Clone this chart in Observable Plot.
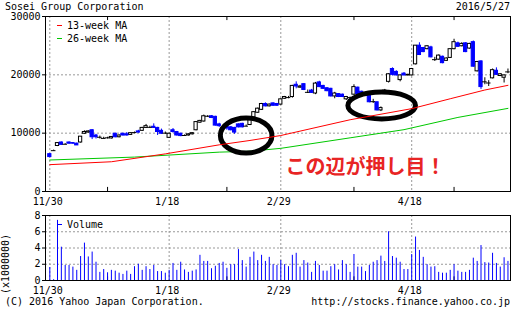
<!DOCTYPE html>
<html><head><meta charset="utf-8">
<script src="https://cdn.jsdelivr.net/npm/d3@7"></script>
<script src="https://cdn.jsdelivr.net/npm/@observablehq/plot@0.6"></script>
<style>
body{margin:0;background:#fff;}
#c{position:relative;width:512px;height:313px;overflow:hidden;font-family:"DejaVu Sans Mono",monospace;font-size:10px;color:#000;background:#fff;}
.t{position:absolute;white-space:pre;line-height:10px;}
.dash{position:absolute;height:1px;width:5px;}
#c svg{position:absolute;left:0;background:transparent;overflow:visible;}
</style></head><body><div id="c"></div><script>
// ---- data ----
const titleText = "Sosei Group Corporation";
const dateText = "2016/5/27";
const tickIdx = [0, 31, 60, 94];
const tickLabels = ["11/30", "1/18", "2/29", "4/18"];
const minorIdx = [15, 46, 79, 105];
const priceTicks = [0, 10000, 20000, 30000];
const priceGrid = [10000, 20000];
const volTicks = [0, 2, 4, 6, 8];
const volGrid = [2, 4, 6];

const openP  = [6400,7000,7800,8400,8100,8400,8300,8200,8400,9900, 10100,10500,9600,9300,9100,9200,9100,9900,9300,9900, 9800,9700,10100,10300,10400,10900,11000,11100,10900,10400, 10000,9200,10500,10200,9900,9600,9600,9800,10500,11800, 12000,12900,12900,12800,11500,11000,11100,11000,10900,11500, 11600,11200,11400,12700,13500,14000,15000,14600,15100,15000, 14900,15900,16100,16200,18300,17800,18400,17000,17300,16800, 18700,18100,17700,17600,16300,16700,16600,15800,16100,16600, 17800,17100,16800,16400,15400,15300,13900,16900,18800,21000, 20500,19100,20200,19900,19900,21800,25000,24600,24400,24700, 22600,22600,23100,22400,22900,24400,25400,24900,25400,24500, 25600,20600,22300,18800,18600,19400,20700,19800,19500,20500];
const highP  = [6500,7100,8400,8500,8200,8500,8400,8300,9400,10400, 10400,10600,9800,9500,9300,9300,9400,10000,9700,10000, 10100,10100,10200,10500,11000,11500,11200,11600,11000,10700, 10200,10000,10800,10300,10000,9700,9900,10100,12000,12200, 13100,13000,13000,12900,11700,11100,11300,11100,11000,11600, 11700,11400,12600,13700,14300,15100,15200,15000,15200,15100, 15900,16300,16300,18200,18800,18200,18500,17400,17500,18700, 18900,18200,17800,17700,17000,16800,16700,16300,16200,18300, 17900,17200,17000,16500,15800,15300,14500,17500,20200,21200, 20700,20000,20400,20100,21100,25000,25500,24700,25000,24900, 23000,23400,23200,22900,24500,26100,25600,25500,25500,25400, 25800,22300,22400,19500,19000,21000,21200,20200,20000,21000];
const lowP   = [5800,6900,7700,7900,8000,8100,8100,7900,8300,9800, 10000,8900,9000,9000,9000,9000,9000,9200,9200,9500, 9500,9600,9900,10000,10300,10800,10800,10800,9600,9800, 9800,9100,10000,9500,9400,9500,9500,9700,10400,11700, 11900,12700,12500,11200,11000,10900,10500,10400,9800,10900, 10900,11100,11300,12600,13400,13900,14500,14500,14600,14600, 14800,15800,15900,16000,17600,17700,17300,16800,16800,16600, 17800,17500,17100,16200,15900,16100,16100,15600,16000,16500, 16600,16600,16500,15200,15100,13800,13700,16800,18600,19800, 19800,18800,19800,19800,19800,21700,23300,23800,24300,22900, 22300,22500,21900,22300,22800,24300,24700,24800,23800,24400, 21300,20500,17500,18300,18000,19300,19900,19700,18600,20200];
const closeP = [5900,7000,8300,8000,8100,8200,8200,7900,9400,10200, 10300,9300,9300,9300,9100,9200,9350,9300,9600,9600, 9600,10000,10100,10100,10900,11200,11000,10900,10200,9900, 10000,9900,10200,9600,9500,9600,9800,10000,11900,12100, 12900,12900,12600,11300,11200,11000,10800,10500,10100,11000, 11000,11200,12500,13600,14200,15000,14600,14900,14700,14700, 15800,16200,16100,18100,18000,18000,17400,17000,16900,18500, 17900,17600,17200,16300,16800,16200,16200,16200,16100,17900, 16700,16700,16800,15300,15400,13900,14300,17300,20100,20000, 19900,19900,19900,20000,21000,25000,23400,23900,24900,23000, 22600,23300,22000,22800,24400,25600,24800,25300,23900,25300, 21400,22200,17900,18800,18600,20800,20000,20100,19900,20500];
const volumeM = [1.6,0.1,7.4,4.1,1.85,1.85,1.65,1.25,2.95,4.6, 2.9,3.5,2.25,1.0,1.35,0.95,1.25,1.15,0.9,0.75, 1.15,0.75,1.7,2.0,1.25,1.7,1.35,1.85,1.1,1.1, 0.9,1.25,2.1,1.25,2.25,1.3,1.0,1.15,1.3,3.1, 2.35,2.35,1.45,1.75,2.1,2.25,1.5,1.95,1.95,3.8, 2.45,1.65,2.85,3.5,2.45,3.1,2.35,2.85,1.95,1.85, 2.45,1.95,1.7,3.1,3.35,1.65,2.45,2.15,1.0,2.35, 1.85,1.15,1.15,1.7,1.95,1.3,2.45,1.95,1.0,3.2, 1.65,1.65,1.1,1.85,2.25,2.45,3.0,2.35,6.0,2.95, 2.75,2.25,1.35,1.35,3.2,5.35,3.7,2.85,1.95,1.65, 1.7,1.0,0.9,0.9,1.25,1.95,1.15,1.0,1.0,1.25, 2.75,2.35,4.3,2.2,2.15,3.35,2.1,1.65,2.8,2.35];

const ma13Idx = [0, 16, 30, 44, 52, 60, 78, 94, 104, 113, 119];
const ma13Val = [4600, 5100, 6450, 8000, 8750, 9600, 12300, 14200, 15900, 17400, 18200];
const ma26Idx = [0, 22, 44, 52, 60, 78, 92, 106, 119];
const ma26Val = [5400, 5900, 6750, 6900, 7400, 9200, 10600, 12700, 14250];

const noteText = ["この辺が押し目！"];
const noteIdx = [82.0];
const noteVal = [4050];
const circleIdx = [51.0, 86.2];
const circleVal = [9600, 14740];

const legendMain = ["13-week MA", "26-week MA"];
const legendColors = ["#ff0000", "#00c800"];
const volLegend = "Volume";
const volUnit = "(x1000000)";
const copyText = "(C) 2016 Yahoo Japan Corporation.";
const urlText = "http://stocks.finance.yahoo.co.jp";

// ---- build ----
const candles = openP.map((o, i) => ({i, o, h: highP[i], l: lowP[i], c: closeP[i]}));
const up = candles.filter(d => d.c > d.o);
const down = candles.filter(d => d.c < d.o);
const flat = candles.filter(d => d.c === d.o);
const vol = volumeM.map((v, i) => ({i, v}));
const ma13 = ma13Idx.map((i, k) => ({i, v: ma13Val[k]}));
const ma26 = ma26Idx.map((i, k) => ({i, v: ma26Val[k]}));
const BLUE = "#0000ff";
const GRID = "#999999";

function ellipse(rx, ry) {
  const k = 0.5523;
  return {draw(ctx) {
    ctx.moveTo(rx, 0);
    ctx.bezierCurveTo(rx, ry * k, rx * k, ry, 0, ry);
    ctx.bezierCurveTo(-rx * k, ry, -rx, ry * k, -rx, 0);
    ctx.bezierCurveTo(-rx, -ry * k, -rx * k, -ry, 0, -ry);
    ctx.bezierCurveTo(rx * k, -ry, rx, -ry * k, rx, 0);
    ctx.closePath();
  }};
}

const xScale = {type: "linear", domain: [-1.117, 119.66]};
const common = {
  width: 512, marginLeft: 45, marginRight: 2,
  x: xScale,
  style: {fontFamily: "DejaVu Sans Mono, monospace", fontSize: "10px", background: "transparent", color: "#000"}
};
const lab = i => tickLabels[tickIdx.indexOf(i)];

const main = Plot.plot({
  ...common, height: 206, marginTop: 16, marginBottom: 15,
  y: {domain: [0, 30000]},
  marks: [
    Plot.ruleY(priceGrid, {stroke: GRID, strokeDasharray: "2,2"}),
    Plot.ruleX(tickIdx, {stroke: GRID, strokeDasharray: "2,2"}),
    Plot.ruleX(minorIdx, {y1: 0, y2: 700, stroke: "black"}),
    Plot.ruleX(minorIdx, {y1: 29300, y2: 30000, stroke: "black"}),
    Plot.line(ma26, {x: "i", y: "v", stroke: legendColors[1], strokeWidth: 1}),
    Plot.ruleX(candles, {x: "i", y1: "l", y2: "h", stroke: d => d.c < d.o ? BLUE : "black", strokeWidth: 1}),
    Plot.rect(up, {x1: d => d.i - 0.42, x2: d => d.i + 0.42, y1: "o", y2: "c", fill: "white", stroke: "black", strokeWidth: 1}),
    Plot.rect(down, {x1: d => d.i - 0.42, x2: d => d.i + 0.42, y1: "o", y2: "c", fill: BLUE, stroke: BLUE, strokeWidth: 1}),
    Plot.ruleY(flat, {y: "o", x1: d => d.i - 0.6, x2: d => d.i + 0.6, stroke: "black", strokeWidth: 1}),
    Plot.dot([0], {x: () => circleIdx[0], y: () => circleVal[0], symbol: ellipse(25.8, 17.5), r: 10, stroke: "black", strokeWidth: 5, fill: "none"}),
    Plot.dot([1], {x: () => circleIdx[1], y: () => circleVal[1], symbol: ellipse(33.8, 13.4), r: 10, stroke: "black", strokeWidth: 5, fill: "none"}),
    Plot.line(ma13, {x: "i", y: "v", stroke: legendColors[0], strokeWidth: 1}),
    Plot.text(noteText, {x: () => noteIdx[0], y: () => noteVal[0], text: d => d, fill: "#e82424", fontSize: 20, fontWeight: "bold", fontFamily: "Noto Sans CJK JP", textAnchor: "middle", lineAnchor: "middle"}),
    Plot.axisY(priceTicks, {anchor: "left", tickSize: 3, tickPadding: 2, tickFormat: d => String(d), label: null}),
    Plot.axisX(tickIdx, {anchor: "bottom", tickSize: 0, tickPadding: 6, dx: -2, tickFormat: lab, label: null}),
    Plot.frame({stroke: "black"})
  ]
});
main.style.top = "0px";

const volPlot = Plot.plot({
  ...common, height: 100, marginTop: 15, marginBottom: 20,
  y: {domain: [0, 8]},
  marks: [
    Plot.ruleY(volGrid, {stroke: GRID, strokeDasharray: "2,2"}),
    Plot.ruleX(tickIdx, {stroke: GRID, strokeDasharray: "2,2"}),
    Plot.ruleX(minorIdx, {y1: 0, y2: 0.45, stroke: "black"}),
    Plot.ruleX(vol, {x: "i", y1: 0, y2: "v", stroke: BLUE, strokeWidth: 1}),
    Plot.axisY(volTicks, {anchor: "left", tickSize: 3, tickPadding: 2, tickFormat: d => String(d), label: null}),
    Plot.axisX(tickIdx, {anchor: "bottom", tickSize: 0, tickPadding: 6, dx: -2, tickFormat: lab, label: null}),
    Plot.frame({stroke: "black"})
  ]
});
volPlot.style.top = "200px";

const c = document.getElementById("c");
c.appendChild(main);
c.appendChild(volPlot);

function txt(s, css) {
  const e = document.createElement("div");
  e.className = "t"; e.textContent = s;
  Object.assign(e.style, css);
  c.appendChild(e);
  return e;
}
function dash(color, left, top) {
  const e = document.createElement("div");
  e.className = "dash";
  Object.assign(e.style, {background: color, left: left + "px", top: top + "px"});
  c.appendChild(e);
}
txt(titleText, {left: "5px", top: "2px"});
txt(dateText, {right: "2px", top: "2px"});
dash(legendColors[0], 57, 25);
txt(legendMain[0], {left: "67px", top: "21px"});
dash(legendColors[1], 57, 38);
txt(legendMain[1], {left: "67px", top: "34px"});
dash(BLUE, 57, 224);
txt(volLegend, {left: "67px", top: "220px"});
txt(volUnit, {left: "6px", top: "264px", transform: "translate(-50%,-50%) rotate(-90deg)"});
txt(copyText, {left: "5px", top: "297px"});
txt(urlText, {right: "2px", top: "297px"});
</script></body></html>
